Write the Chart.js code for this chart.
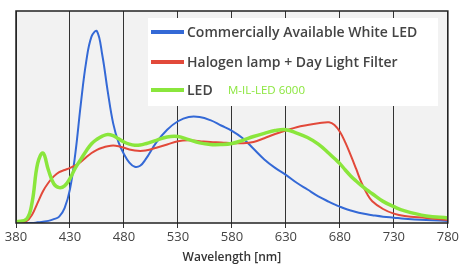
<!DOCTYPE html>
<html>
<head>
<meta charset="utf-8">
<script src="https://cdn.jsdelivr.net/npm/chart.js@4"></script>
<style>
  html, body { margin: 0; padding: 0; background: #fff; }
  #wrap { width: 460px; height: 265px; }
</style>
</head>
<body>
<div id="wrap"><canvas id="chart" width="460" height="265"></canvas></div>
<script>
const wavelengths = [380, 390, 395, 400, 405, 410, 415, 420, 425, 430, 435, 440, 445, 450, 455, 460, 465, 470, 475, 480, 485, 490, 495, 500, 510, 520, 530, 540, 550, 560, 570, 580, 590, 600, 610, 620, 630, 640, 650, 660, 670, 675, 680, 685, 690, 695, 700, 705, 710, 720, 730, 740, 760, 780]

const whiteLed = [0, 0, 0, 0.3, 0.6, 1, 1.8, 3, 7, 16, 33, 56, 76, 88, 90.5, 79, 62, 47, 38, 32.5, 28.5, 26.5, 27, 30, 38, 44, 48, 50, 50, 48.5, 46, 43.5, 40, 35, 30, 26, 22.7, 19, 15.8, 12.6, 10, 8.8, 7.7, 6.7, 5.9, 5.2, 4.6, 4.1, 3.7, 3, 2.5, 2, 1.4, 1]

const halogen = [0, 1, 4, 9.5, 15, 19, 22, 24, 25, 26, 27.2, 28.8, 31, 33, 34.5, 35.5, 36.2, 36.5, 36.2, 35.5, 34.7, 34.2, 34, 34.2, 35.5, 37, 38.6, 39, 38.6, 38.2, 38, 37.7, 37.6, 38.2, 40, 42, 43.6, 45.2, 46.2, 47, 47.5, 46.2, 43, 38, 32, 25.6, 19, 13.9, 10.3, 6.6, 4.4, 3.3, 2.4, 1.4]

const ledM = [0.5, 2, 10, 28, 33, 25, 18.5, 16.7, 17.5, 21, 26, 30, 34, 37.4, 39.5, 41, 41.8, 41.2, 39.7, 38.2, 37.2, 36.7, 36.8, 37.4, 39, 40.6, 40.8, 39.3, 37.8, 37, 37, 37.5, 39, 40.8, 42.3, 43.6, 44, 42.4, 40.3, 37.2, 32.8, 30.4, 28, 25, 22.2, 19.8, 17.6, 15.6, 13.8, 10.2, 7.7, 5.7, 3.3, 2.4]

const xTicks = [380, 430, 480, 530, 580, 630, 680, 730, 780]

const seriesNames = ['Commercially Available White LED', 'Halogen lamp + Day Light Filter', 'LED']
const ledModel = 'M-IL-LED 6000'
const colors = ['#3469d6', '#e2493a', '#8ae63c']

function toPoints(values) {
    return wavelengths.map((w, i) => ({ x: w, y: values[i] }))
}

const plotBackground = {
    id: 'plotBackground',
    beforeDraw(chart) {
        const { ctx, chartArea } = chart
        ctx.save()
        ctx.fillStyle = '#f2f2f2'
        ctx.fillRect(chartArea.left, chartArea.top, chartArea.right - chartArea.left, chartArea.bottom - chartArea.top)
        ctx.restore()
    }
}

// legend is a white box sitting inside the plot
const boxLegend = {
    id: 'boxLegend',
    afterDraw(chart) {
        const { ctx } = chart
        ctx.save()
        ctx.fillStyle = '#ffffff'
        ctx.fillRect(148, 18, 290, 88)
        const rows = [32, 62, 90]
        rows.forEach((y, i) => {
            ctx.strokeStyle = colors[i]
            ctx.lineWidth = 4
            ctx.beginPath()
            ctx.moveTo(151, y)
            ctx.lineTo(184, y)
            ctx.stroke()
            ctx.fillStyle = '#444'
            ctx.font = '600 14px "Open Sans"'
            ctx.textBaseline = 'middle'
            ctx.fillText(seriesNames[i], 187, y + 1)
        })
        ctx.fillStyle = '#8ae63c'
        ctx.font = '11.5px "Open Sans"'
        ctx.fillText(ledModel, 228, 91)
        // frame on top
        const a = chart.chartArea
        ctx.strokeStyle = '#222'
        ctx.lineWidth = 1.5
        ctx.strokeRect(a.left, a.top, a.right - a.left, a.bottom - a.top)
        ctx.restore()
    }
}

const ctx = document.getElementById('chart').getContext('2d')

const chart = new Chart(ctx, {
    type: 'line',
    data: {
        datasets: [
            { label: seriesNames[0], data: toPoints(whiteLed), borderColor: colors[0], borderWidth: 2 },
            { label: seriesNames[1], data: toPoints(halogen), borderColor: colors[1], borderWidth: 2 },
            { label: seriesNames[2], data: toPoints(ledM), borderColor: colors[2], borderWidth: 3.5 }
        ].reverse()
    },
    options: {
        responsive: false,
        animation: false,
        elements: { point: { radius: 0 }, line: { tension: 0.4 } },
        layout: { padding: { left: 16, right: 12, top: 11, bottom: 0 } },
        plugins: { legend: { display: false }, tooltip: { enabled: false } },
        scales: {
            x: {
                type: 'linear',
                min: 380,
                max: 780,
                afterBuildTicks: axis => { axis.ticks = xTicks.map(v => ({ value: v })) },
                grid: { color: '#333', lineWidth: 1, tickLength: 5, drawOnChartArea: true },
                border: { display: false },
                ticks: { color: '#444', font: { family: 'Open Sans', size: 13 }, padding: 1, maxRotation: 0 },
                title: { display: true, text: 'Wavelength [nm]', color: '#333', font: { family: 'Open Sans', size: 12, weight: '600' }, padding: { top: 5, bottom: 0 } }
            },
            y: {
                display: false,
                min: 0,
                max: 100
            }
        }
    },
    plugins: [plotBackground, boxLegend]
})
</script>
</body>
</html>
